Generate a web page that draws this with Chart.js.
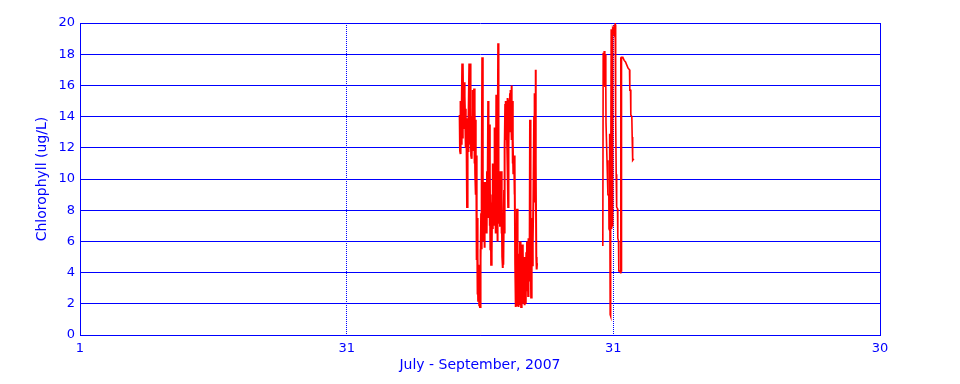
<!DOCTYPE html>
<html>
<head>
<meta charset="utf-8">
<script src="https://cdn.jsdelivr.net/npm/chart.js@4/dist/chart.umd.min.js"></script>
<style>
  html, body { margin: 0; padding: 0; background: #ffffff; }
  #wrap { width: 960px; height: 384px; position: relative; }
</style>
</head>
<body>
<div id="wrap"><canvas id="c" width="960" height="384"></canvas></div>
<script>
// X values: hours since 1 July 2007, 00:00 (axis runs July 1 .. Sept 30)
const xTickValues = [0, 720, 1440, 2160];
const xTickLabels = ['1', '31', '31', '30'];
const xTitle = 'July - September, 2007';
const yTitle = 'Chlorophyll (ug/L)';

// Mid-August burst (hourly samples)
const burst1Hours = [
  1025,1026,1027,1028,1029,1030,1031,1032,1033,1034,1035,
  1037,1038,1039,1040,1041,1042,1043,1044,1045,1046,1047,1048,1049,
  1051,1052,1053,1054,1055,1056,1057,1058,1059,1060,1061,1062,
  1064,1065,1066,1067,1068,1069,1070,1071,1072,1073,1074,1075,1076,
  1078,1079,1080,1081,1082,1083,1084,1085,1086,1087,1088,1089,
  1091,1092,1093,1094,1095,1096,1097,1098,1099,1100,1101,1102,1103,
  1105,1106,1107,1108,1109,1110,1111,1112,1113,1114,1115,1116,
  1118,1119,1120,1121,1122,1123,1124,1125,1126,1127,1128,1129,1130,
  1132,1133,1134,1135,1136,1137,1138,1139,1140,1141,1142,1143,
  1145,1146,1147,1148,1149,1150,1151,1152,1153,1154,1155,1156,1157,
  1159,1160,1161,1162,1163,1164,1165,1166,1167,1168,1169,1170,
  1172,1173,1174,1175,1176,1177,1178,1179,1180,1181,1182,1183,1184,
  1186,1187,1188,1189,1190,1191,1192,1193,1194,1195,1196,1197,
  1199,1200,1201,1202,1203,1204,1205,1206,1207,1208,1209,1210,1211,
  1213,1214,1215,1216,1217,1218,1219,1220,1221,1222,1223,1224,
  1226,1227,1228,1229,1230,1231,1232,1233,1234
];
const burst1Chl = [
  14.1,11.8,15.0,11.6,14.9,12.2,14.5,17.4,12.6,17.4,
  14.0,16.2,13.2,15.3,13.8,14.5,12.0,13.9,11.5,8.2,
  11.5,13.5,11.8,14.0,17.4,12.5,17.4,12.2,14.6,11.5,
  14.0,11.3,13.2,11.8,15.7,12.0,15.8,11.0,14.5,10.3,
  13.8,9.0,11.5,4.8,7.5,2.6,5.0,2.2,4.5,1.9,
  4.0,1.8,5.5,4.8,7.8,5.5,9.5,17.8,6.2,10.3,
  6.0,9.8,5.6,9.0,7.0,9.5,7.3,9.8,6.5,10.5,
  7.8,9.0,15.0,7.5,13.5,7.0,10.5,5.5,8.5,4.5,
  7.5,5.2,9.0,6.8,11.0,8.0,10.5,7.0,13.3,9.0,
  11.0,6.5,15.4,8.0,11.0,6.0,10.5,18.7,10.3,7.2,
  10.5,7.0,9.8,8.0,10.5,6.5,9.0,5.0,4.3,7.0,
  4.5,9.3,6.5,12.0,14.8,12.5,15.0,13.0,14.8,12.5,
  15.2,10.5,8.2,12.0,15.1,13.8,15.5,13.0,15.7,14.0,
  16.0,12.5,15.0,11.0,12.5,10.3,11.5,9.0,11.0,4.5,
  1.8,4.0,1.9,3.0,8.1,5.0,1.9,3.5,1.8,5.2,
  1.9,6.0,2.5,5.0,1.8,4.5,2.2,5.8,2.0,5.5,
  2.6,4.8,1.9,5.0,2.4,4.0,2.0,5.3,2.8,6.0,
  3.0,5.2,2.5,6.2,3.5,5.5,13.8,4.0,6.0,2.4,
  6.0,4.2,7.5,4.4,6.0,8.5,14.0,8.5,15.5,10.0,
  17.0,11.0,5.0,4.2,4.6
];

// End-of-August / early-September burst
const burst2Hours = [
  1411.6,1412.6,1414.3,1415.3,1417.0,1418.0,1419.7,1420.2,1422.4,1422.9,
  1425.1,1425.6,1427.8,1428.3,1429.7,1430.5,1431.5,1432.4,1433.2,1434.2,
  1435.1,1435.9,1436.9,1437.8,1438.6,1439.6,1440.5,1441.3,1442.3,1443.2,
  1444.0,1445.0,1445.9,1446.7,1447.7,1448.6,1449.4,1451.3,1452.1,1454.0,
  1454.8,1457.5,1459.4,1460.2,1461.2,1462.1,1465.6,1469.3,1472.9,1476.4,
  1480.1,1483.7,1484.5,1486.4,1487.2,1489.9,1490.9,1491.8,1492.6,1495.3
];
const burst2Chl = [
  5.7,18.1,16.0,18.2,15.9,18.0,15.9,13.6,13.6,11.2,
  11.2,9.0,9.0,6.8,6.7,12.9,1.3,1.2,8.0,19.6,
  6.8,19.5,7.0,19.4,19.6,19.5,19.4,19.7,19.8,19.9,
  19.8,19.9,19.8,14.0,10.3,10.2,8.2,8.1,6.2,6.0,
  4.1,4.1,4.0,17.8,4.1,17.8,17.8,17.6,17.5,17.3,
  17.1,17.0,15.7,15.7,14.1,14.0,12.7,12.7,11.2,11.3
];

const BLUE = '#0000ff';
const RED = '#ff0000';
const FONT = 'DejaVu Sans';

function pairs(xs, ys) { return xs.map((x, i) => ({ x: x, y: ys[i] })); }

new Chart(document.getElementById('c'), {
  type: 'line',
  data: {
    datasets: [
      { data: pairs(burst1Hours, burst1Chl), borderColor: RED, borderWidth: 2, pointRadius: 0, tension: 0, fill: false },
      { data: pairs(burst2Hours, burst2Chl), borderColor: RED, borderWidth: 1.6, pointRadius: 0, tension: 0, fill: false }
    ]
  },
  options: {
    responsive: false,
    animation: false,
    events: [],
    layout: { padding: { top: 23, right: 80, left: 0, bottom: 0 } },
    plugins: { legend: { display: false }, tooltip: { enabled: false }, title: { display: false } },
    scales: {
      x: {
        type: 'linear',
        min: 0, max: 2160,
        afterBuildTicks: (s) => { s.ticks = xTickValues.map(v => ({ value: v })); },
        afterFit: (s) => { s.height = 49; },
        ticks: {
          color: BLUE, font: { family: FONT, size: 13 }, padding: 6, maxRotation: 0, autoSkip: false,
          callback: (v) => { const i = xTickValues.indexOf(v); return i >= 0 ? xTickLabels[i] : ''; }
        },
        grid: {
          drawTicks: false,
          color: BLUE,
          lineWidth: 1
        },
        border: {
          display: true, color: BLUE, width: 1,
          dash: (ctx) => (ctx.tick && (ctx.tick.value === 720 || ctx.tick.value === 1440)) ? [1, 1] : []
        },
        title: { display: true, text: xTitle, color: BLUE, font: { family: FONT, size: 14 }, padding: { top: 0, bottom: 10 } }
      },
      y: {
        min: 0, max: 20,
        afterFit: (s) => { s.width = 80; },
        ticks: { stepSize: 2, color: BLUE, font: { family: FONT, size: 13 }, padding: 5 },
        grid: { drawTicks: false, color: BLUE, lineWidth: 1 },
        border: { display: true, color: BLUE, width: 1 },
        title: { display: true, text: yTitle, color: BLUE, font: { family: FONT, size: 14 }, padding: { top: 34, bottom: 0 } }
      }
    }
  }
});
</script>
</body>
</html>
